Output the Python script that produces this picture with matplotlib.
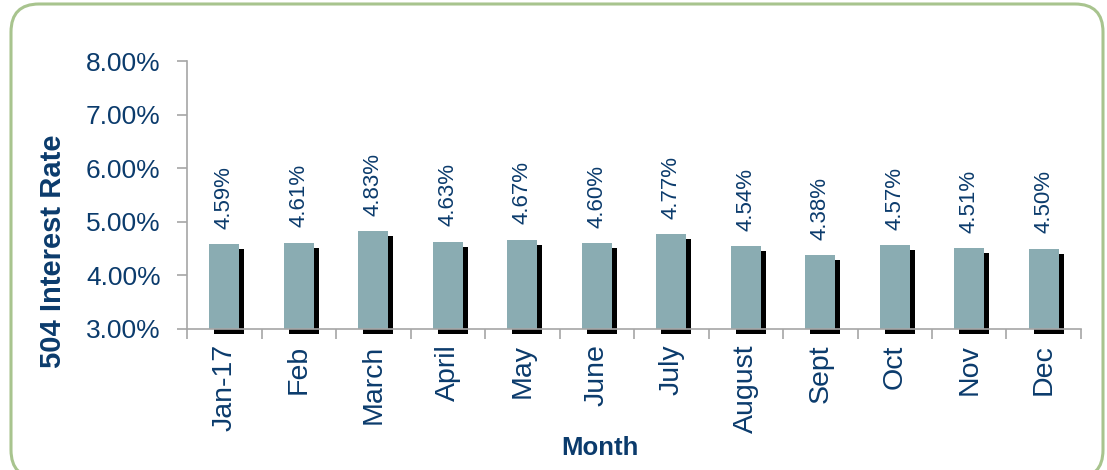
import matplotlib
matplotlib.use("Agg")
import matplotlib.pyplot as plt
import matplotlib.patheffects as pe
from matplotlib.patches import FancyBboxPatch
from matplotlib.ticker import FuncFormatter, MultipleLocator

months = ["Jan-17", "Feb", "March", "April", "May", "June",
          "July", "August", "Sept", "Oct", "Nov", "Dec"]
rates = [4.59, 4.61, 4.83, 4.63, 4.67, 4.60, 4.77, 4.54, 4.38, 4.57, 4.51, 4.50]

navy = "#0b3b6c"
bar_color = "#8aacb2"
axis_gray = "#a6a6a6"

plt.rcParams["font.family"] = ["Liberation Sans", "DejaVu Sans"]

fig = plt.figure(figsize=(11.07, 4.70), dpi=100)

# rounded green frame around the chart (inches), bottom edge runs off the image
frame = FancyBboxPatch((0.11, -0.08), 10.92, 4.74,
                       boxstyle="round,pad=0,rounding_size=0.28",
                       transform=fig.dpi_scale_trans, fill=False,
                       edgecolor="#a8c48e", linewidth=2.2)
fig.patches.append(frame)

ax = fig.add_axes([0.169, 0.300, 0.8075, 0.570])

x = range(len(months))
shadow = [pe.SimplePatchShadow(offset=(3.6, -3.6), shadow_rgbFace="black", alpha=1.0),
          pe.Normal()]
bars = ax.bar(x, [r - 3 for r in rates], bottom=3, width=0.4,
              color=bar_color, edgecolor="none", clip_on=False, zorder=2)
for b in bars:
    b.set_path_effects(shadow)

for xi, r in zip(x, rates):
    ax.annotate(f"{r:.2f}%", (xi, r), xytext=(0, 11), textcoords="offset points",
                rotation=90, ha="center", va="bottom", fontsize=16, color=navy)

ax.set_ylim(3, 8)
ax.set_xlim(-0.5, len(months) - 0.5)
ax.yaxis.set_major_locator(MultipleLocator(1))
ax.yaxis.set_major_formatter(FuncFormatter(lambda v, p: f"{v:.2f}%"))

ax.set_xticks([i - 0.5 for i in range(len(months) + 1)])
ax.set_xticklabels([])
ax.set_xticks(list(x), minor=True)
ax.set_xticklabels(months, minor=True, rotation=90, fontsize=20.5, color=navy)
ax.tick_params(axis="x", which="minor", length=0, pad=11)
ax.tick_params(axis="x", which="major", length=7, color=axis_gray, width=1.2)
ax.tick_params(axis="y", length=7, color=axis_gray, width=1.2, pad=12,
               labelsize=19, labelcolor=navy)

for s in ["top", "right"]:
    ax.spines[s].set_visible(False)
for s in ["left", "bottom"]:
    ax.spines[s].set_color(axis_gray)
    ax.spines[s].set_linewidth(1.2)

ax.set_ylabel("504 Interest Rate", fontsize=21, fontweight="bold", color=navy)
ax.yaxis.set_label_coords(-0.134, 0.29)
ax.set_xlabel("Month", fontsize=18.5, fontweight="bold", color=navy)
ax.xaxis.set_label_coords(0.462, -0.40)

fig.savefig("out.png", dpi=100)
